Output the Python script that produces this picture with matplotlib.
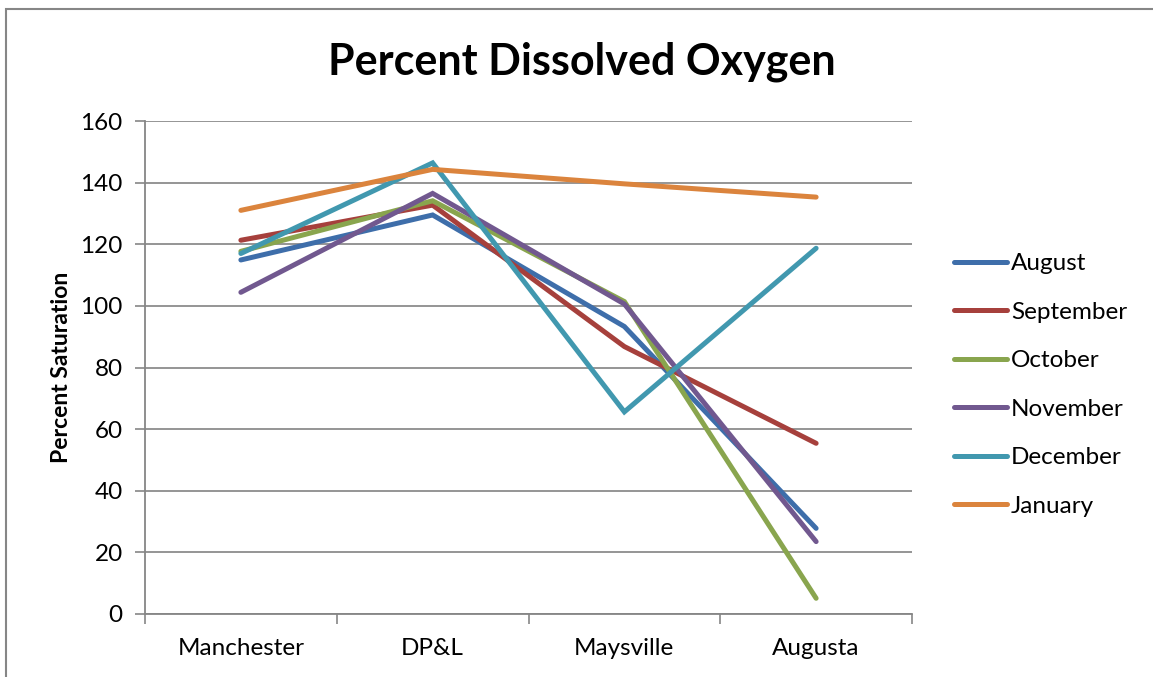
"""
Percent Dissolved Oxygen - line chart by site and month
"""

import matplotlib
matplotlib.use('Agg')  # Non-interactive backend

import numpy as np
from matplotlib import pyplot as plt
from matplotlib.patches import Rectangle

plt.rcParams['font.family'] = ['Lato', 'DejaVu Sans']

# =============================================================================
# Data
# =============================================================================
sites = ['Manchester', 'DP&L', 'Maysville', 'Augusta']

august = [114.9, 129.5, 93.3, 27.8]
september = [121.3, 132.7, 86.8, 55.4]
october = [117.7, 134.1, 101.4, 5.1]
november = [104.4, 136.5, 100.6, 23.5]
december = [117.0, 146.4, 65.6, 118.7]
january = [131.0, 144.3, 139.6, 135.3]

months = ['August', 'September', 'October', 'November', 'December', 'January']
series = [august, september, october, november, december, january]
colors = ['#3E6EAA', '#A6403C', '#89A54E', '#71588F', '#4198AF', '#DB843D']

# =============================================================================
# Plot
# =============================================================================
fig = plt.figure(figsize=(11.53, 6.77), dpi=100)
ax = fig.add_axes([145 / 1153, 1 - 614 / 677, (912 - 145) / 1153, (614 - 121) / 677])

x = np.arange(len(sites))
for vals, name, col in zip(series, months, colors):
    ax.plot(x, vals, color=col, lw=3.6, label=name,
            solid_capstyle='round', solid_joinstyle='miter')

ax.set_ylim(0, 160)
ax.set_yticks(np.arange(0, 161, 20))
ax.set_xlim(-0.5, len(sites) - 0.5)
ax.set_xticks(np.arange(-0.5, len(sites), 1.0))
ax.set_xticklabels([])
ax.set_xticks(x, minor=True)
ax.set_xticklabels(sites, minor=True)
ax.tick_params(axis='x', which='minor', length=0, pad=17, labelsize=17.5)
ax.tick_params(axis='x', which='major', length=7, color='#868686', width=1.2)
ax.tick_params(axis='y', length=7, color='#868686', width=1.2, labelsize=17.5, pad=9)

ax.grid(axis='y', color='#8C8C8C', lw=1.3)
ax.set_axisbelow(True)
for side in ['top', 'right']:
    ax.spines[side].set_visible(False)
for side in ['left', 'bottom']:
    ax.spines[side].set_color('#868686')
    ax.spines[side].set_linewidth(1.3)

ax.set_ylabel('Percent Saturation', fontsize=16.5, fontweight='bold', labelpad=6)
fig.text(582 / 1153, 1 - 62 / 677, 'Percent Dissolved Oxygen',
         ha='center', va='center', fontsize=31, fontweight='bold')

fig.legend(loc='center left', bbox_to_anchor=(932 / 1153, 1 - 385 / 677),
           frameon=False, fontsize=17.5, handlelength=2.2, handletextpad=0.15,
           labelspacing=1.13)

# outer chart frame
fig.patches.append(Rectangle((6 / 1153, -0.1), 1.2, 1.1 - 9 / 677,
                             transform=fig.transFigure, fill=False,
                             edgecolor='#868686', lw=1.5))

plt.savefig('out.png', dpi=100)
plt.close()
